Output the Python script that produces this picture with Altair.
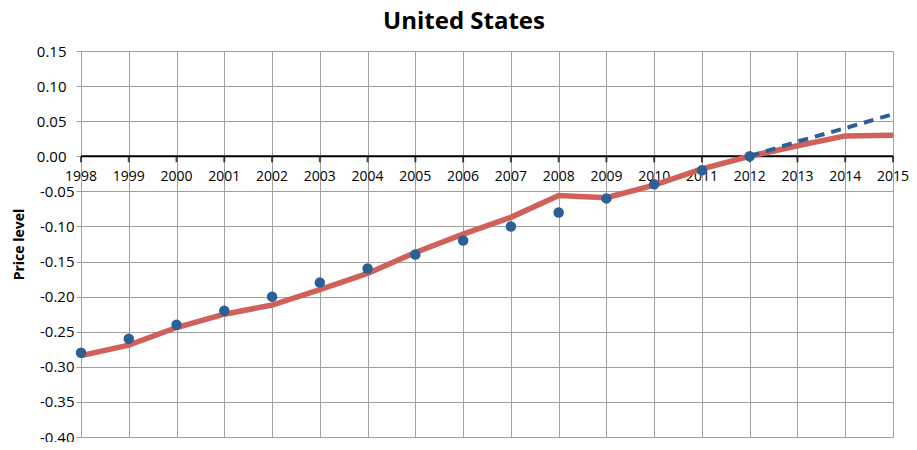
import altair as alt
import pandas as pd

years = list(range(1998, 2016))
actual = [-0.284, -0.269, -0.244, -0.225, -0.212, -0.190, -0.167, -0.137, -0.111,
          -0.087, -0.056, -0.059, -0.041, -0.018, 0.000, 0.015, 0.029, 0.030]
point_years = list(range(1998, 2013))
points = [-0.28, -0.26, -0.24, -0.22, -0.20, -0.18, -0.16, -0.14, -0.12, -0.10,
          -0.08, -0.06, -0.04, -0.02, 0.00]
proj_years = [2012, 2013, 2014, 2015]
projection = [0.000, 0.021, 0.040, 0.060]
y_ticks = [-0.40, -0.35, -0.30, -0.25, -0.20, -0.15, -0.10, -0.05, 0.00, 0.05, 0.10, 0.15]

FONT = "Open Sans"
GRID = "#A0A0A0"

df_actual = pd.DataFrame({"year": years, "value": actual})
df_points = pd.DataFrame({"year": point_years, "value": points})
df_proj = pd.DataFrame({"year": proj_years, "value": projection})
df_years = pd.DataFrame({"year": years, "value": [0.0] * len(years)})

xs = alt.Scale(domain=[1998, 2015], nice=False, zero=False)
ys = alt.Scale(domain=[-0.40, 0.15], nice=False, zero=False)

label_expr = "replace(format(datum.value, '.2f'), '\u2212', '-')"

x_axis = alt.Axis(values=years, grid=True, gridColor=GRID, gridWidth=1, labels=False,
                  ticks=False, domain=False, title=None)
y_axis = alt.Axis(values=y_ticks, grid=True, gridColor=GRID, gridWidth=1,
                  labelExpr=label_expr, labelOverlap=False,
                  labelFont=FONT, labelFontSize=15, labelColor="black",
                  labelPadding={"condition": {"test": "datum.value > -0.001", "value": 10},
                                "value": 2},
                  tickColor=GRID, tickSize=5, domainColor=GRID,
                  title="Price level", titleFont=FONT, titleFontSize=14,
                  titleFontWeight="bold", titleColor="black", titlePadding=10)


def X():
    return alt.X("year:Q", scale=xs, axis=x_axis)


def Y():
    return alt.Y("value:Q", scale=ys, axis=y_axis)


zero_rule = alt.Chart(df_years).mark_line(color="black", strokeWidth=2).encode(
    x=X(), y=Y()
)
zero_ticks = alt.Chart(df_years).mark_tick(color="black", orient="vertical", size=6,
                                           thickness=2, yOffset=3).encode(
    x=X(), y=Y()
)
year_labels = alt.Chart(df_years).mark_text(font=FONT, fontSize=14, color="black",
                                             dy=21).encode(
    x=X(), y=Y(), text=alt.Text("year:N")
)

red_line = alt.Chart(df_actual).mark_line(color="#D0605A", strokeWidth=5.5).encode(
    x=X(), y=Y()
)
proj_line = alt.Chart(df_proj).mark_line(color="#2B5F95", strokeWidth=4,
                                         strokeDash=[10, 7]).encode(
    x=X(), y=Y()
)
dots = alt.Chart(df_points).mark_circle(color="#2B5F95", opacity=1, size=110).encode(
    x=X(), y=Y()
)

chart = alt.layer(
    zero_rule, zero_ticks, year_labels, red_line, proj_line, dots
).properties(
    width=812,
    height=386,
    title=alt.TitleParams("United States", font=FONT, fontSize=24, fontWeight="bold",
                          color="black", anchor="middle", dx=-23, offset=10),
    autosize=alt.AutoSizeParams(type="none"),
    padding={"left": 73, "top": 43, "right": 16, "bottom": 5},
).configure_view(stroke=None).configure_axis(labelOverlap=False)

chart.save("out.html", embed_options={"renderer": "svg", "actions": False})
